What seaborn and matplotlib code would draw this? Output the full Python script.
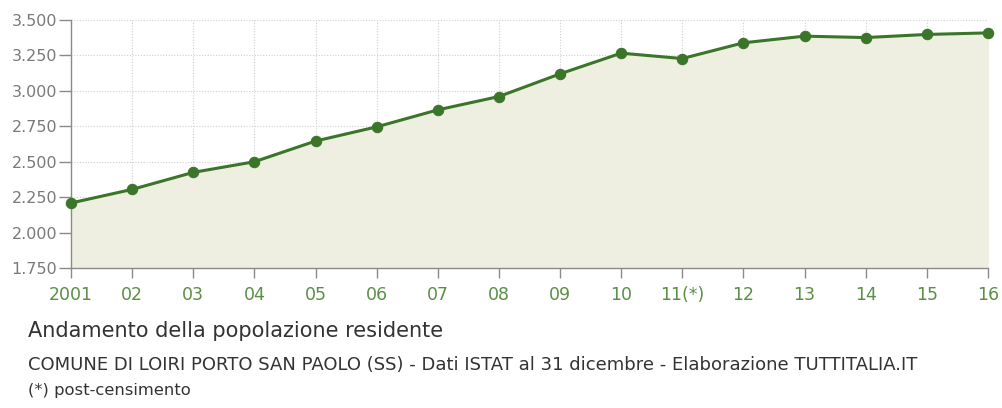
import matplotlib
matplotlib.use("Agg")
import matplotlib.pyplot as plt
import seaborn as sns
import pandas as pd

years = ["2001", "02", "03", "04", "05", "06", "07", "08",
         "09", "10", "11(*)", "12", "13", "14", "15", "16"]
population = [2209, 2305, 2425, 2500, 2646, 2746, 2866, 2960,
              3120, 3266, 3228, 3339, 3386, 3376, 3398, 3409]
y_ticks = [1750, 2000, 2250, 2500, 2750, 3000, 3250, 3500]

df = pd.DataFrame({"pos": range(len(years)), "pop": population})

sns.set_style("white")
plt.rcParams["font.family"] = ["DejaVu Sans"]

fig = plt.figure(figsize=(10.02, 4.08), dpi=100)
ax = fig.add_axes([0.0709, 0.343, 0.915, 0.608])

line_col = "#3a7529"
ax.fill_between(df["pos"], df["pop"], 1750, color="#efefe1", zorder=1)
sns.lineplot(data=df, x="pos", y="pop", ax=ax, color=line_col, linewidth=2.2,
             marker="o", markersize=7.5, markeredgecolor=line_col, zorder=3,
             clip_on=False)

ax.set_xlim(0, len(years) - 1)
ax.set_ylim(1750, 3500)
ax.set_xticks(list(df["pos"]))
ax.set_xticklabels(years, color="#5a8f46", fontsize=12.5)
ax.set_yticks(y_ticks)
ax.set_yticklabels([f"{v:,}".replace(",", ".") for v in y_ticks],
                   color="#7a7a7a", fontsize=11.5)
ax.set_xlabel("")
ax.set_ylabel("")

ax.grid(True, color="#cfcfcf", linestyle=(0, (1, 1.5)), linewidth=0.8, zorder=0)
ax.set_axisbelow(True)
for s in ["top", "right"]:
    ax.spines[s].set_visible(False)
for s in ["left", "bottom"]:
    ax.spines[s].set_color("#8a8a8a")
    ax.spines[s].set_linewidth(1)
ax.tick_params(axis="y", direction="out", length=9, width=1,
               color="#8a8a8a", left=True, pad=1)
ax.tick_params(axis="x", direction="out", length=7, width=1,
               color="#8a8a8a", bottom=True, pad=6)

fig.text(0.028, 1 - 337 / 408, "Andamento della popolazione residente",
         fontsize=15, color="#333333", va="baseline")
fig.text(0.028, 1 - 370 / 408,
         "COMUNE DI LOIRI PORTO SAN PAOLO (SS) - Dati ISTAT al 31 dicembre - Elaborazione TUTTITALIA.IT",
         fontsize=13.0, color="#333333", va="baseline")
fig.text(0.028, 1 - 395 / 408, "(*) post-censimento", fontsize=11.8,
         color="#333333", va="baseline")

fig.savefig("out.png", dpi=100)
